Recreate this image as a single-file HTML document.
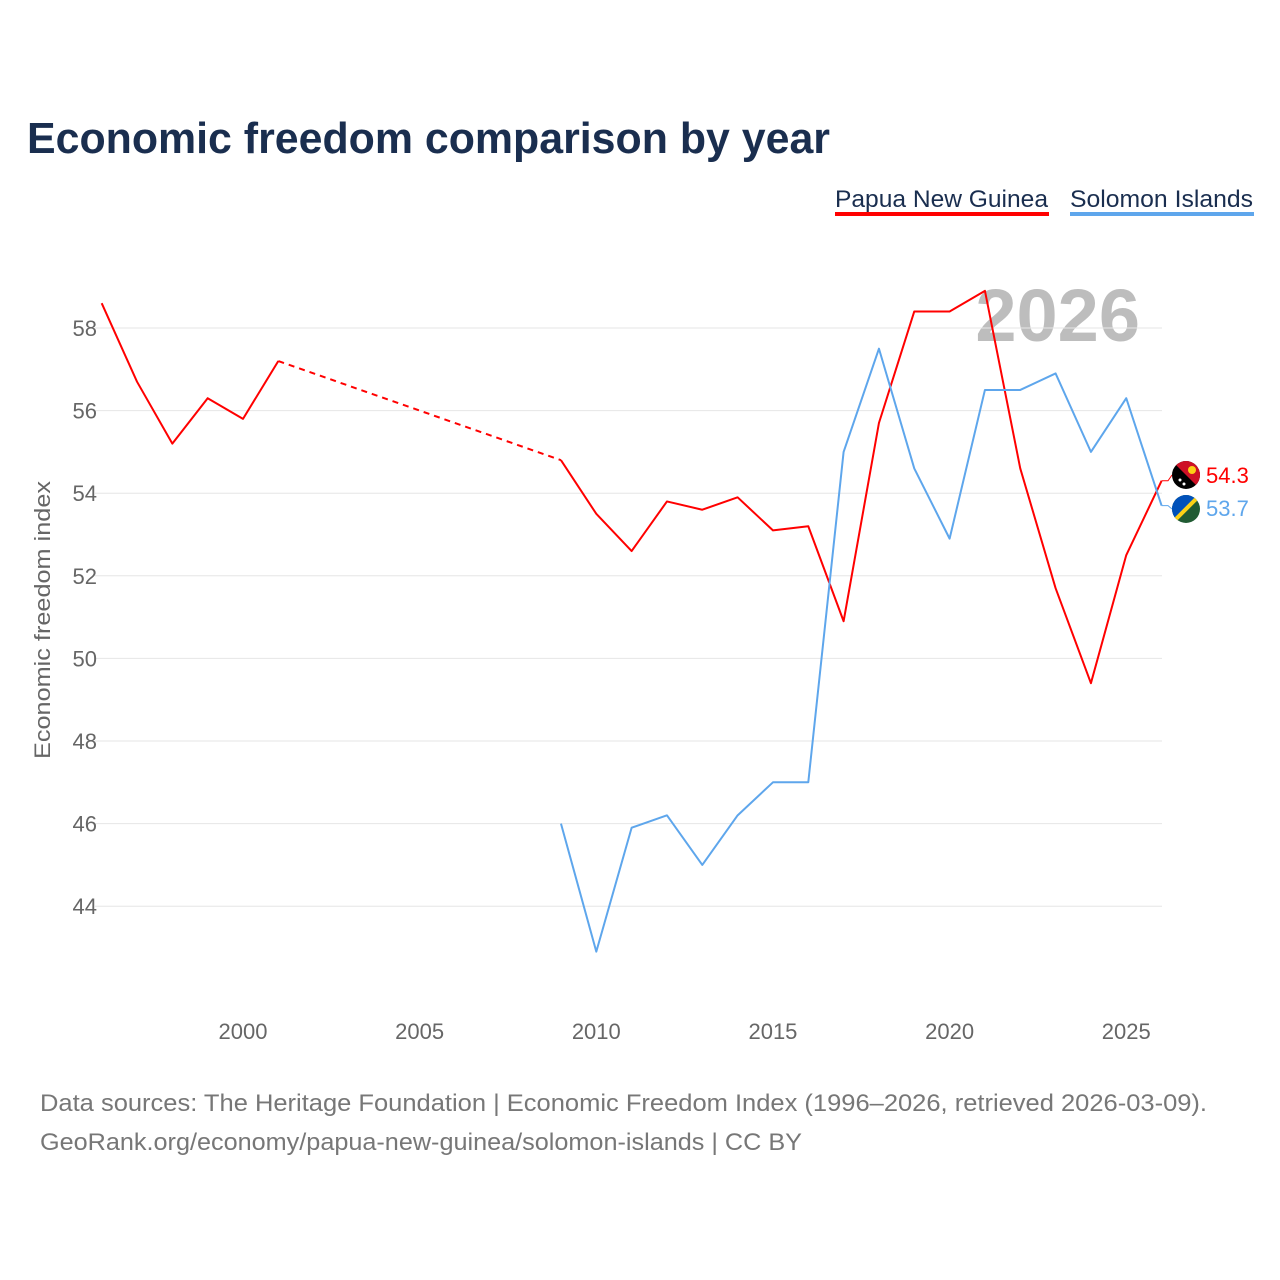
<!DOCTYPE html>
<html><head><meta charset="utf-8"><style>
body{margin:0;background:#fff;font-family:"Liberation Sans",sans-serif;}
#wrap{position:relative;width:1280px;height:1280px;overflow:hidden;}
</style></head><body>
<div id="wrap">
<svg id="chart" width="1280" height="1280" xmlns="http://www.w3.org/2000/svg">
<defs>
<clipPath id="c1"><circle cx="1186" cy="475" r="14"/></clipPath>
<clipPath id="c2"><circle cx="1186" cy="509" r="14"/></clipPath>
</defs>
<text x="27" y="153" font-size="44" font-weight="bold" fill="#1a2e4f" textLength="803" lengthAdjust="spacingAndGlyphs">Economic freedom comparison by year</text>
<g><text x="835" y="207" font-size="24" fill="#1a2e4f" textLength="213" lengthAdjust="spacingAndGlyphs">Papua New Guinea</text><rect x="835" y="212" width="214" height="4" fill="#ff0000"/></g>
<g><text x="1070" y="207" font-size="24" fill="#1a2e4f" textLength="183" lengthAdjust="spacingAndGlyphs">Solomon Islands</text><rect x="1070" y="212" width="184" height="4" fill="#5ea6ec"/></g>
<text x="1140" y="341" text-anchor="end" font-size="74" font-weight="bold" fill="#bdbdbd">2026</text>
<g id="grid"></g><g id="series"></g>
<text transform="translate(50,620) rotate(-90)" text-anchor="middle" font-size="22" fill="#666" textLength="278" lengthAdjust="spacingAndGlyphs">Economic freedom index</text>
<text x="40" y="1111" font-size="24" fill="#777" textLength="1167" lengthAdjust="spacingAndGlyphs">Data sources: The Heritage Foundation | Economic Freedom Index (1996–2026, retrieved 2026-03-09).</text>
<text x="40" y="1150" font-size="24" fill="#777" textLength="762" lengthAdjust="spacingAndGlyphs">GeoRank.org/economy/papua-new-guinea/solomon-islands | CC BY</text>
</svg></div>
<script>
const years=[1996,1997,1998,1999,2000,2001,2002,2003,2004,2005,2006,2007,2008,2009,2010,2011,2012,2013,2014,2015,2016,2017,2018,2019,2020,2021,2022,2023,2024,2025,2026];
const pngValues=[58.6,56.7,55.2,56.3,55.8,57.2,null,null,null,null,null,null,null,54.8,53.5,52.6,53.8,53.6,53.9,53.1,53.2,50.9,55.7,58.4,58.4,58.9,54.6,51.7,49.4,52.5,54.3];
const solValues=[null,null,null,null,null,null,null,null,null,null,null,null,null,46.0,42.9,45.9,46.2,45.0,46.2,47.0,47.0,55.0,57.5,54.6,52.9,56.5,56.5,56.9,55.0,56.3,53.7];
const yTicks=[44,46,48,50,52,54,56,58];
const xTicks=[2000,2005,2010,2015,2020,2025];
const NS='http://www.w3.org/2000/svg';
const x=v=>243+(v-2000)*35.33;
const y=v=>328+(58-v)*41.3;
const grid=document.getElementById('grid'),ser=document.getElementById('series');
function mk(tag,at,par){const e=document.createElementNS(NS,tag);for(const k in at)e.setAttribute(k,at[k]);par.appendChild(e);return e;}
yTicks.forEach(t=>{
 const l=mk('line',{x1:95,x2:1162,y1:y(t),y2:y(t),stroke:'#e6e6e6','stroke-width':1},grid);
 
 
 const tx=mk('text',{x:97,y:y(t)+8,'text-anchor':'end','font-size':22,fill:'#666'},grid);tx.textContent=t;
 
 
});
xTicks.forEach(t=>{
 const tx=mk('text',{x:x(t),y:1039,'text-anchor':'middle','font-size':22,fill:'#666'},grid);tx.textContent=t;
 
 
});
function draw(vals,color,name){
 let seg=[],prev=null;
 vals.forEach((v,i)=>{
  if(v==null)return;
  const p=[x(years[i]),y(v)];
  if(prev&&prev.i!==i-1){
   const d=mk('line',{x1:prev.p[0],y1:prev.p[1],x2:p[0],y2:p[1],stroke:color,'stroke-width':2,'stroke-dasharray':'6,5'},ser);
   
   
   flush();seg=[];
  }
  seg.push(p);prev={i,p};
 });
 flush();
 function flush(){if(seg.length<2)return;
  const pl=mk('polyline',{points:seg.map(p=>p.join(',')).join(' '),fill:'none',stroke:color,'stroke-width':2,'stroke-linejoin':'round'},ser);
  
  }
}
draw(pngValues,'#ff0000','png');
draw(solValues,'#5ea6ec','solomon');
const lp=pngValues[pngValues.length-1],ls=solValues[solValues.length-1];
const yp=475,ys=509;
mk('polyline',{points:`${x(2026)},${y(lp)} 1168,${y(lp)} 1172,${yp}`,fill:'none',stroke:'#ff0000','stroke-width':1},ser);
mk('polyline',{points:`${x(2026)},${y(ls)} 1168,${y(ls)} 1172,${ys}`,fill:'none',stroke:'#5ea6ec','stroke-width':1},ser);
const f1=mk('g',{'clip-path':'url(#c1)'},ser);


mk('rect',{x:1172,y:yp-14,width:28,height:28,fill:'#000'},f1);
mk('path',{d:`M1172,${yp-14} L1200,${yp-14} L1200,${yp+14} Z`,fill:'#ce1126'},f1);
mk('circle',{cx:1192,cy:yp-5,r:4,fill:'#fcd116'},f1);
mk('circle',{cx:1180,cy:yp+5,r:1.5,fill:'#fff'},f1);
mk('circle',{cx:1184,cy:yp+9,r:1.5,fill:'#fff'},f1);
const f2=mk('g',{'clip-path':'url(#c2)'},ser);


mk('rect',{x:1172,y:ys-14,width:28,height:28,fill:'#215b33'},f2);
mk('path',{d:`M1172,${ys-14} L1200,${ys-14} L1172,${ys+14} Z`,fill:'#0051ba'},f2);
mk('line',{x1:1170,y1:ys+16,x2:1202,y2:ys-16,stroke:'#fcd116','stroke-width':4},f2);
const t1=mk('text',{x:1206,y:yp+8,'font-size':22,fill:'#ff0000'},ser);t1.textContent=lp.toFixed(1);


const t2=mk('text',{x:1206,y:ys+7,'font-size':22,fill:'#5ea6ec'},ser);t2.textContent=ls.toFixed(1);


</script>
</body></html>
